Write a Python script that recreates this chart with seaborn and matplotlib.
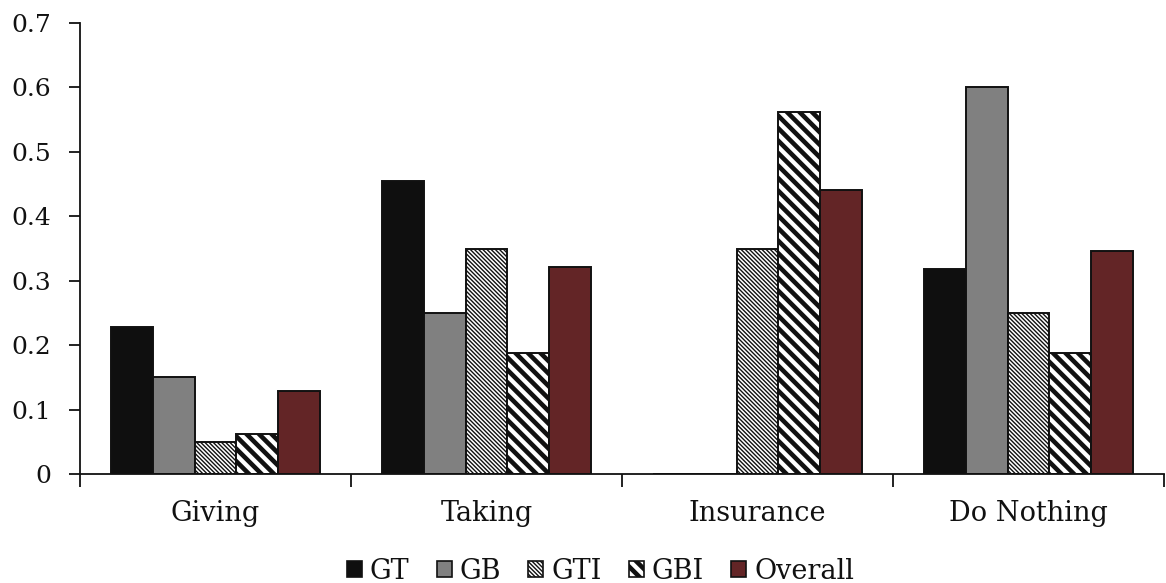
import matplotlib
matplotlib.use("Agg")
import matplotlib.pyplot as plt
from matplotlib.backend_bases import GraphicsContextBase
from matplotlib.patches import Patch
import seaborn as sns
import pandas as pd

categories = ["Giving", "Taking", "Insurance", "Do Nothing"]
groups = ["GT", "GB", "GTI", "GBI", "Overall"]
gt = [0.228, 0.455, 0.0, 0.318]
gb = [0.15, 0.25, 0.0, 0.60]
gti = [0.05, 0.35, 0.35, 0.25]
gbi = [0.0625, 0.1875, 0.5625, 0.1875]
overall = [0.129, 0.321, 0.441, 0.346]
y_ticks = [0, 0.1, 0.2, 0.3, 0.4, 0.5, 0.6, 0.7]
y_tick_labels = ["0", "0.1", "0.2", "0.3", "0.4", "0.5", "0.6", "0.7"]

series = {"GT": gt, "GB": gb, "GTI": gti, "GBI": gbi, "Overall": overall}
df = pd.DataFrame(
    [(c, g, v) for g in groups for c, v in zip(categories, series[g])],
    columns=["category", "group", "value"],
)

# coarser hatch grid so that stripe spacing can be tuned more finely
_hatch_path = GraphicsContextBase.get_hatch_path
GraphicsContextBase.get_hatch_path = lambda self, density=4.0: _hatch_path(self, density)

sns.set_theme(style="white")
plt.rcParams["font.family"] = ["DejaVu Serif"]
plt.rcParams["hatch.linewidth"] = 1.0

INK = "#111111"
fills = {"GT": "#0f0f0f", "GB": "#808080", "GTI": "white", "GBI": "white", "Overall": "#632526"}
hatches = {"GT": None, "GB": None, "GTI": "\\" * 12, "GBI": "\\" * 4, "Overall": None}
hatch_lw = {"GTI": 1.0, "GBI": 3.3}


def apply_hatch(patch, g):
    if hatches[g]:
        patch.set_hatch(hatches[g])
        try:
            patch.set_hatch_linewidth(hatch_lw[g])
        except AttributeError:
            pass


fig = plt.figure(figsize=(11.66, 5.83), dpi=100)
ax = fig.add_axes([0.0686, 0.187, 0.9297, 0.7735])

sns.barplot(
    data=df, x="category", y="value", hue="group", order=categories,
    hue_order=groups, palette=fills, saturation=1, width=0.77, gap=0,
    edgecolor=INK, linewidth=1.4, legend=False, ax=ax,
)

for container, g in zip(ax.containers, groups):
    for bar in container:
        apply_hatch(bar, g)

ax.set_xlim(-0.5, len(categories) - 0.5)
ax.set_ylim(0, 0.7)
ax.set_yticks(y_ticks)
ax.set_yticklabels(y_tick_labels)
ax.set_xlabel("")
ax.set_ylabel("")

for side in ["top", "right"]:
    ax.spines[side].set_visible(False)
for side in ["left", "bottom"]:
    ax.spines[side].set_color(INK)
    ax.spines[side].set_linewidth(1.3)

ax.tick_params(axis="y", which="major", direction="out", length=8, width=1.3,
               color=INK, labelsize=18, pad=13, left=True)
ax.tick_params(axis="x", which="major", length=0, labelsize=19.5, pad=19)
ax.set_xticks([i - 0.5 for i in range(len(categories) + 1)], minor=True)
ax.tick_params(axis="x", which="minor", direction="out", length=9, width=1.3,
               color=INK, bottom=True)
for lbl in ax.get_yticklabels() + ax.get_xticklabels():
    lbl.set_color(INK)

# legend row of square swatches under the axis labels
handles = [Patch(facecolor=fills[g], edgecolor=INK, linewidth=1.2, label=g) for g in groups]
leg = fig.legend(handles=handles, loc="center", ncol=5, frameon=False,
                 bbox_to_anchor=(0.515, 0.02), fontsize=19.5,
                 handlelength=0.55, handleheight=0.55, handletextpad=0.3,
                 columnspacing=1.0, borderpad=0)
for h, g in zip(leg.legend_handles, groups):
    apply_hatch(h, g)
for t in leg.get_texts():
    t.set_color(INK)

fig.savefig("out.png", dpi=100)
